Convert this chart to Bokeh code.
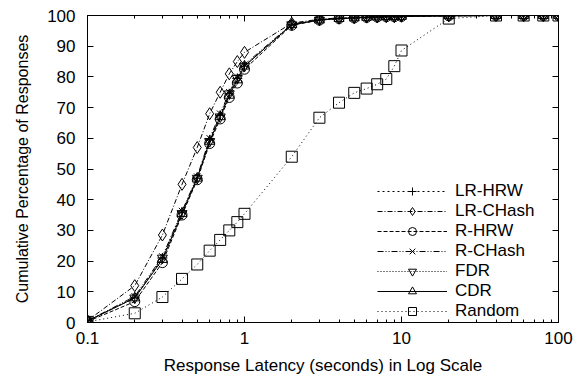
from bokeh.plotting import figure
from bokeh.models import (ColumnDataSource, Range1d, FixedTicker, LogAxis, LinearAxis,
                          Legend, LegendItem, CustomJSTickFormatter)
from bokeh.embed import file_html
from bokeh.resources import INLINE

# ---- data ----
latency = [0.1, 0.2, 0.3, 0.4, 0.5, 0.6, 0.7, 0.8, 0.9, 1, 2, 3, 4, 5, 6, 7, 8, 9, 10, 20, 40, 60, 80, 100]

lr_hrw   = [0.5, 8.0, 21.0, 36.0, 47.0, 59.5, 67.5, 74.5, 79.5, 83.5, 97.0, 98.6, 99.0, 99.2, 99.4, 99.5, 99.6, 99.6, 99.7, 99.9, 100, 100, 100, 100]
lr_chash = [0.6, 12.0, 28.5, 45.0, 57.0, 68.0, 75.0, 81.0, 85.0, 88.0, 97.5, 98.8, 99.2, 99.4, 99.5, 99.6, 99.7, 99.7, 99.8, 99.9, 100, 100, 100, 100]
r_hrw    = [0.3, 6.8, 19.5, 35.0, 46.5, 58.3, 66.3, 73.3, 78.0, 82.5, 96.8, 98.5, 99.0, 99.2, 99.4, 99.5, 99.6, 99.6, 99.7, 99.9, 100, 100, 100, 100]
r_chash  = [0.5, 8.5, 21.5, 36.3, 47.5, 60.0, 68.0, 75.0, 80.0, 84.0, 97.2, 98.6, 99.0, 99.2, 99.4, 99.5, 99.6, 99.6, 99.7, 99.9, 100, 100, 100, 100]
fdr      = [0.5, 8.0, 21.0, 35.5, 47.0, 59.0, 67.0, 74.5, 79.5, 83.5, 97.0, 98.5, 99.0, 99.2, 99.4, 99.5, 99.6, 99.6, 99.7, 99.9, 100, 100, 100, 100]
cdr      = [0.5, 8.0, 20.5, 35.5, 47.0, 59.0, 67.0, 74.0, 79.0, 83.5, 97.0, 98.5, 99.0, 99.2, 99.4, 99.5, 99.6, 99.6, 99.7, 99.9, 100, 100, 100, 100]
random_  = [0.2, 3.0, 8.3, 14.2, 18.9, 23.4, 26.9, 30.0, 32.7, 35.4, 54.0, 66.7, 71.6, 74.8, 76.2, 77.6, 79.3, 83.5, 88.6, 99.0, 100, 100, 100, 100]

series_names = ["LR-HRW", "LR-CHash", "R-HRW", "R-CHash", "FDR", "CDR", "Random"]
series_values = [lr_hrw, lr_chash, r_hrw, r_chash, fdr, cdr, random_]
markers = ["cross", "diamond", "circle", "x", "inverted_triangle", "triangle", "square"]
marker_sizes = [10, 12, 10, 9, 10, 10, 11]
dashes = ["2 3", "5 2 1 2", "4 2", "6 2 1 2 1 2", "1 2", "solid", "1 3"]

x_major = [0.1, 1, 10, 100]
x_minor = [0.2, 0.3, 0.4, 0.5, 0.6, 0.7, 0.8, 0.9, 2, 3, 4, 5, 6, 7, 8, 9, 20, 30, 40, 50, 60, 70, 80, 90]
y_ticks = [0, 10, 20, 30, 40, 50, 60, 70, 80, 90, 100]

FONT = "Liberation Sans"
FS = "17px"

p = figure(width=576, height=386, x_axis_type="log",
           x_range=Range1d(0.1, 100), y_range=Range1d(0, 100),
           output_backend="svg", toolbar_location=None,
           min_border_left=87, min_border_right=18, min_border_top=15, min_border_bottom=64)
p.grid.visible = False
p.outline_line_color = "black"
p.outline_line_width = 1
p.background_fill_color = "white"
p.border_fill_color = "white"

xticker = FixedTicker(ticks=x_major, minor_ticks=x_minor)
yticker = FixedTicker(ticks=y_ticks)

def style_axis(ax, show_labels):
    ax.axis_line_color = "black"
    ax.major_tick_in = 6
    ax.major_tick_out = 0
    ax.minor_tick_in = 3
    ax.minor_tick_out = 0
    ax.major_tick_line_color = "black"
    ax.minor_tick_line_color = "black"
    ax.major_label_text_font = FONT
    ax.major_label_text_color = "black"
    ax.axis_label_text_font = FONT
    ax.axis_label_text_font_style = "normal"
    ax.axis_label_text_font_size = FS
    ax.axis_label_text_color = "black"
    if show_labels:
        ax.major_label_text_font_size = FS
    else:
        ax.major_label_text_font_size = "0px"
        ax.major_label_standoff = 0
        ax.formatter = CustomJSTickFormatter(code="return ''")

xa = p.xaxis[0]
xa.ticker = xticker
xa.formatter = CustomJSTickFormatter(code="return tick.toString()")
style_axis(xa, True)
xa.major_label_standoff = 9
xa.axis_label = "Response Latency (seconds) in Log Scale"
xa.axis_label_standoff = 9

ya = p.yaxis[0]
ya.ticker = yticker
style_axis(ya, True)
ya.minor_tick_in = 0
ya.major_label_standoff = 12
ya.axis_label = "Cumulative Percentage of Responses"
ya.axis_label_text_font_size = "16px"
ya.axis_label_standoff = 13

top_ax = LogAxis(ticker=xticker)
style_axis(top_ax, False)
p.add_layout(top_ax, "above")

right_ax = LinearAxis(ticker=yticker)
style_axis(right_ax, False)
right_ax.minor_tick_in = 0
p.add_layout(right_ax, "right")

items = []
for name, vals, mk, ms, dash in zip(series_names, series_values, markers, marker_sizes, dashes):
    src = ColumnDataSource(dict(x=latency, y=vals))
    r1 = p.line("x", "y", source=src, line_color="black", line_width=1, line_dash=dash)
    r2 = p.scatter("x", "y", source=src, marker=mk, size=ms, line_color="black",
                   fill_color=None, line_width=1)
    items.append(LegendItem(label=name, renderers=[r1, r2]))

legend = Legend(items=items, location=(290, 1), orientation="vertical",
                glyph_width=70, glyph_height=20, label_height=20, spacing=0,
                padding=0, margin=0, label_standoff=8,
                label_text_font=FONT, label_text_font_size=FS, label_text_color="black",
                background_fill_alpha=0, border_line_alpha=0)
p.add_layout(legend)

open("out.html", "w").write(file_html(p, INLINE))
